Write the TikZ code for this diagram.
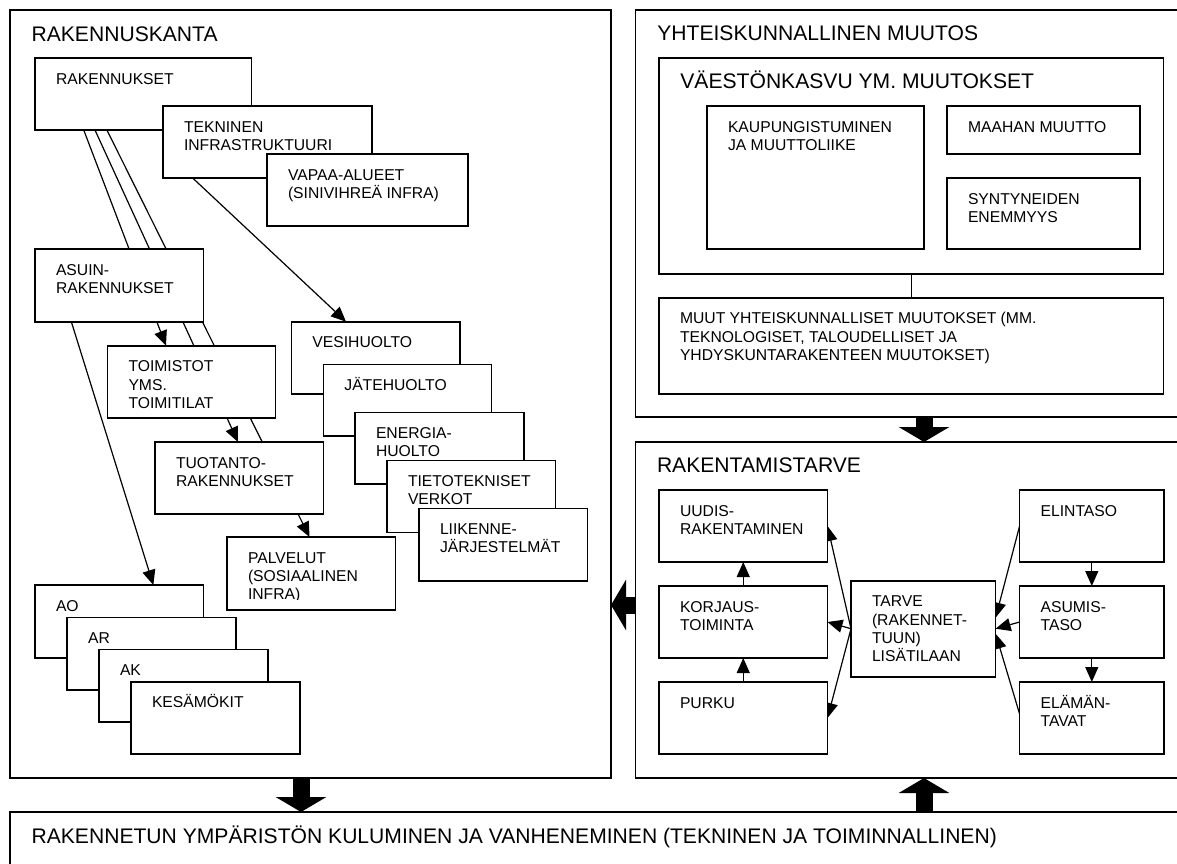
\documentclass[tikz,border=0pt]{standalone}
\usepackage{fontspec}
\setmainfont{Liberation Sans}
\usetikzlibrary{calc,arrows.meta}
\pgfdeclarelayer{bg}
\pgfsetlayers{bg,main}
\newcommand{\boxtext}[2]{\node[txt] (#1t) at ($(#1.north west)+(21,11.2)$) {\rule{0pt}{15pt}#2};}
\begin{document}
\begin{tikzpicture}[x=1pt,y=-1pt,
  frame/.style={draw, line width=1.5pt, anchor=north west, inner sep=0pt, outer sep=0pt},
  box/.style={draw, fill=white, line width=1.6pt, anchor=north west, inner sep=0pt, outer sep=0pt},
  txt/.style={anchor=north west, inner sep=0pt, outer sep=0pt, align=left, font=\fontsize{15.7}{18.3}\selectfont},
  title/.style={anchor=base west, inner sep=0pt, outer sep=0pt, font=\fontsize{21.1}{24}\selectfont},
  con/.style={line width=1.2pt},
  arr/.style={line width=1.2pt, -{Triangle[length=15pt,width=13pt]}},
  fat/.style={line width=17pt, -{Triangle[length=15pt,width=50pt]}},
]
\useasboundingbox (0,0) rectangle (1177,863);

% ---------- frames ----------
\node[frame, minimum width=601pt, minimum height=768pt] (lf) at (10,10) {};
\node[title] (lft) at (31.6,41) {RAKENNUSKANTA};
\node[frame, minimum width=550pt, minimum height=407pt] (trf) at (635.5,10) {};
\node[title] (trft) at (657.3,40.5) {YHTEISKUNNALLINEN MUUTOS};
\node[frame, minimum width=550pt, minimum height=336pt] (rtf) at (635.5,442) {};
\node[title] (rtft) at (657,472) {RAKENTAMISTARVE};
\node[frame, minimum width=1175pt, minimum height=70pt] (bf) at (10,812) {};
\node[title] (bft) at (31.6,843.3) {RAKENNETUN YMPÄRISTÖN KULUMINEN JA VANHENEMINEN (TEKNINEN JA TOIMINNALLINEN)};

% ---------- left: buildings ----------
\node[box, minimum width=216.5pt, minimum height=72pt] (rak) at (35,58) {};
\boxtext{rak}{RAKENNUKSET}
\node[box, minimum width=209pt, minimum height=72pt] (tek) at (163,106) {};
\boxtext{tek}{TEKNINEN\\INFRASTRUKTUURI}
\node[box, minimum width=201pt, minimum height=72pt] (vap) at (267,154) {};
\boxtext{vap}{VAPAA-ALUEET\\(SINIVIHREÄ INFRA)}

\node[box, minimum width=168.6pt, minimum height=73pt] (asuin) at (35,249) {};
\boxtext{asuin}{ASUIN-\\RAKENNUKSET}
\node[box, minimum width=168pt, minimum height=72pt] (toim) at (107.5,345.7) {};
\boxtext{toim}{TOIMISTOT\\YMS.\\TOIMITILAT}
\node[box, minimum width=168.4pt, minimum height=72pt] (tuot) at (155,442) {};
\boxtext{tuot}{TUOTANTO-\\RAKENNUKSET}
\node[box, minimum width=168.4pt, minimum height=73pt] (palv) at (227,537) {};
\coordinate (pclip) at (0,599.5);
\begin{scope}
  \clip (palv.north west) rectangle (palv.east |- pclip);
  \boxtext{palv}{PALVELUT\\(SOSIAALINEN\\INFRA)}
\end{scope}

\node[box, minimum width=168.6pt, minimum height=72.7pt] (ao) at (35,585) {};
\boxtext{ao}{AO}
\node[box, minimum width=168.8pt, minimum height=72.7pt] (ar) at (67.2,617.3) {};
\boxtext{ar}{AR}
\node[box, minimum width=168.7pt, minimum height=72.7pt] (ak) at (99,649.3) {};
\boxtext{ak}{AK}
\node[box, minimum width=168.7pt, minimum height=72.3pt] (kes) at (131,681.7) {};
\boxtext{kes}{KESÄMÖKIT}

\node[box, minimum width=168.6pt, minimum height=72.3pt] (ves) at (291.4,321.7) {};
\boxtext{ves}{VESIHUOLTO}
\node[box, minimum width=168.1pt, minimum height=71.7pt] (jat) at (323.4,364.3) {};
\boxtext{jat}{JÄTEHUOLTO}
\node[box, minimum width=169pt, minimum height=71.7pt] (ene) at (355,412.3) {};
\boxtext{ene}{ENERGIA-\\HUOLTO}
\node[box, minimum width=168.5pt, minimum height=72pt] (tie) at (387,460.3) {};
\boxtext{tie}{TIETOTEKNISET\\VERKOT}
\node[box, minimum width=168.6pt, minimum height=72.4pt] (lii) at (419,508.3) {};
\boxtext{lii}{LIIKENNE-\\JÄRJESTELMÄT}

% ---------- top right ----------
\node[box, minimum width=504.5pt, minimum height=216pt] (vk) at (659,58) {};
\node[title] (vkt) at (680.4,88) {VÄESTÖNKASVU YM. MUUTOKSET};
\node[box, minimum width=217pt, minimum height=143pt] (kaup) at (707,106) {};
\boxtext{kaup}{KAUPUNGISTUMINEN\\JA MUUTTOLIIKE}
\node[box, minimum width=193pt, minimum height=48pt] (maa) at (947,106) {};
\boxtext{maa}{MAAHAN MUUTTO}
\node[box, minimum width=193pt, minimum height=71pt] (syn) at (947,178) {};
\boxtext{syn}{SYNTYNEIDEN\\ENEMMYYS}
\node[box, minimum width=504.5pt, minimum height=96.3pt] (muut) at (659,297.7) {};
\boxtext{muut}{MUUT YHTEISKUNNALLISET MUUTOKSET (MM.\\TEKNOLOGISET, TALOUDELLISET JA\\YHDYSKUNTARAKENTEEN MUUTOKSET)}

% ---------- bottom right ----------
\node[box, minimum width=168.5pt, minimum height=72pt] (uud) at (659,490) {};
\boxtext{uud}{UUDIS-\\RAKENTAMINEN}
\node[box, minimum width=168.5pt, minimum height=72pt] (kor) at (659,586) {};
\boxtext{kor}{KORJAUS-\\TOIMINTA}
\node[box, minimum width=168.5pt, minimum height=72pt] (pur) at (659,682) {};
\boxtext{pur}{PURKU}
\node[box, minimum width=144.6pt, minimum height=96pt] (tar) at (851,580.7) {};
\boxtext{tar}{TARVE\\(RAKENNET-\\TUUN)\\LISÄTILAAN}
\node[box, minimum width=144.4pt, minimum height=72pt] (eli) at (1019.6,490) {};
\boxtext{eli}{ELINTASO}
\node[box, minimum width=144.4pt, minimum height=72pt] (asu) at (1019.6,586) {};
\boxtext{asu}{ASUMIS-\\TASO}
\node[box, minimum width=144.4pt, minimum height=72pt] (ela) at (1019.6,682) {};
\boxtext{ela}{ELÄMÄN-\\TAVAT}

% ---------- fat arrows ----------
\coordinate (xa) at (301,0);
\coordinate (xb) at (924,0);
\coordinate (yc) at (0,605);
\draw[fat] (lf.south -| xa) -- (bf.north -| xa);
\draw[fat] (trf.south -| xb) -- (rtf.north -| xb);
\draw[fat] (bf.north -| xb) -- (rtf.south -| xb);
\draw[fat] (rtf.west |- yc) -- (lf.east |- yc);

% ---------- connectors ----------
\coordinate (k1) at ([yshift=6pt]maa.west);
\coordinate (k2) at ([yshift=-6.5pt]syn.west);
\begin{pgfonlayer}{bg}
  \draw[arr] ($(rak.south west)!0.225!(rak.south east)$) -- ($(toim.north west)!0.348!(toim.north east)$);
  \draw[arr] ($(rak.south west)!0.277!(rak.south east)$) -- ($(tuot.north west)!0.493!(tuot.north east)$);
  \draw[arr] ($(rak.south west)!0.332!(rak.south east)$) -- ($(palv.north west)!0.49!(palv.north east)$);
  \draw[arr] ($(asuin.south west)!0.216!(asuin.south east)$) -- ($(ao.north west)!0.702!(ao.north east)$);
  \draw[arr] ($(tek.south west)!0.142!(tek.south east)$) -- ($(ves.north west)!0.324!(ves.north east)$);

  \draw[con] (kaup.east |- k1) -- (k1);
  \draw[con] (kaup.east |- k2) -- (k2);
  \draw[con] (maa.south) -- (syn.north);
  \draw[con] (vk.south) -- (muut.north);

  \draw[arr] (kor.north) -- (uud.south);
  \draw[arr] (pur.north) -- (kor.south);
  \draw[arr] (eli.south) -- (asu.north);
  \draw[arr] (asu.south) -- (ela.north);
  \draw[arr] (tar.west) -- (uud.east);
  \draw[arr] (tar.west) -- (kor.east);
  \draw[arr] (tar.west) -- (pur.east);
  \draw[arr] (eli.west) -- ([yshift=11pt]tar.east);
  \draw[arr] (asu.west) -- (tar.east);
  \draw[arr] ([yshift=4pt]ela.west) -- ([yshift=-5pt]tar.east);
\end{pgfonlayer}
\end{tikzpicture}
\end{document}
